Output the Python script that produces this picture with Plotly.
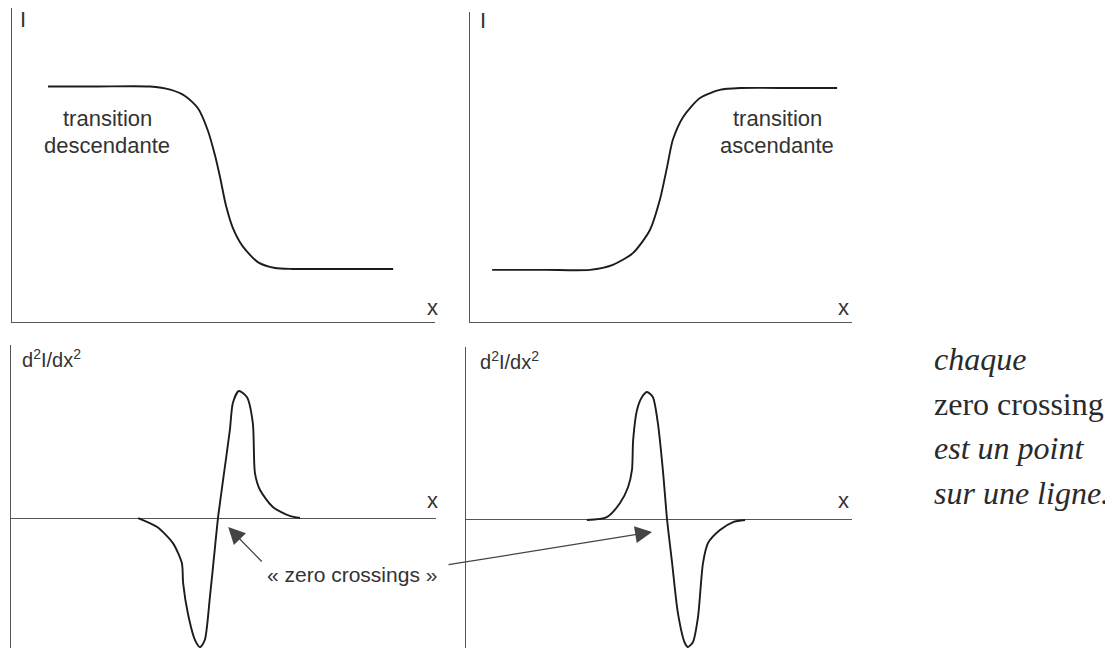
import plotly.graph_objects as go

W, H = 1113, 648
OFF = 8  # the page body keeps its default 8px margin

# Intensity profiles, top row (x in arbitrary units 0-10, I in 0-1)
desc_x = [0.85, 2.0, 3.26, 3.74, 4.09, 4.40, 4.63, 4.80, 4.92, 5.06, 5.22, 5.46, 5.82, 6.22, 6.64, 8.0, 9.01]
desc_I = [0.75, 0.75, 0.75, 0.74, 0.72, 0.68, 0.61, 0.53, 0.46, 0.37, 0.30, 0.24, 0.19, 0.172, 0.169, 0.169, 0.169]

asc_x = [0.58, 2.0, 3.14, 3.74, 4.27, 4.71, 4.97, 5.16, 5.31, 5.58, 6.02, 6.54, 7.07, 8.5, 9.61]
asc_I = [0.166, 0.166, 0.166, 0.182, 0.220, 0.293, 0.389, 0.494, 0.580, 0.653, 0.713, 0.739, 0.745, 0.745, 0.745]

# Second derivatives, bottom row
d2_desc_x = [2.99, 3.44, 3.81, 4.02, 4.05, 4.16, 4.33, 4.45, 4.56, 4.68, 4.80, 4.87,
             4.99, 5.15, 5.22, 5.36, 5.55, 5.69, 5.74, 5.86, 6.16, 6.56, 6.80]
d2_desc_y = [0, -0.052, -0.145, -0.260, -0.376, -0.549, -0.705, -0.746, -0.705, -0.457, -0.168, 0,
             0.220, 0.509, 0.665, 0.734, 0.699, 0.549, 0.260, 0.162, 0.064, 0.012, 0]

d2_asc_x = [3.13, 3.65, 3.99, 4.20, 4.30, 4.33, 4.43, 4.56, 4.69, 4.84, 4.97, 5.10,
            5.21, 5.34, 5.49, 5.67, 5.75, 5.88, 6.01, 6.14, 6.27, 6.58, 6.92, 7.23]
d2_asc_y = [0, 0.017, 0.098, 0.191, 0.289, 0.462, 0.636, 0.711, 0.740, 0.711, 0.561, 0.289,
            0, -0.249, -0.538, -0.711, -0.734, -0.705, -0.561, -0.249, -0.133, -0.058, -0.012, 0]

# arrow tips (near the zero crossings), in panel units
tip_left = (5.11, -0.052)
tip_right = (4.82, -0.069)

side_lines = ['<i>chaque</i>', 'zero crossing', '<i>est un point</i>', '<i>sur une ligne.</i>']

SANS = 'Liberation Sans, Arial, sans-serif'
SERIF = 'Liberation Serif, DejaVu Serif, serif'
CURVE = '#1c1c1c'
AXIS = '#555555'
TEXT = '#333333'


def px_x(p):
    return (p - OFF) / (W - OFF)


def px_y(p):
    return 1 - (p - OFF) / (H - OFF)


fig = go.Figure()

panels = [
    # axis suffix, x domain px, y domain px (top, bottom), y range
    ('', (12, 435), (8, 322), [0, 1.0]),
    ('2', (470, 852), (12, 322), [0, 0.987]),
    ('3', (11, 436), (345, 648), [-0.751, 1.0]),
    ('4', (466, 852), (347, 648), [-0.74, 1.0]),
]
curves = [(desc_x, desc_I), (asc_x, asc_I), (d2_desc_x, d2_desc_y), (d2_asc_x, d2_asc_y)]

for i, ((sfx, xd, yd, yr), (cx, cy)) in enumerate(zip(panels, curves)):
    bottom_row = i >= 2
    fig.add_trace(go.Scatter(
        x=cx, y=cy, mode='lines', xaxis='x' + sfx, yaxis='y' + sfx,
        line=dict(color=CURVE, width=1.9, shape='spline', smoothing=0.7),
        hoverinfo='skip', showlegend=False,
    ))
    fig.update_layout({
        'xaxis' + sfx: dict(
            domain=[px_x(xd[0]), px_x(xd[1])], range=[0, 10], anchor='y' + sfx,
            showgrid=False, zeroline=False, showticklabels=False, ticks='',
            showline=not bottom_row, linecolor=AXIS, linewidth=1.3,
        ),
        'yaxis' + sfx: dict(
            domain=[max(px_y(yd[1]), 0), px_y(yd[0])], range=yr, anchor='x' + sfx,
            showgrid=False, showticklabels=False, ticks='',
            showline=True, linecolor=AXIS, linewidth=1.3,
            zeroline=bottom_row, zerolinecolor=AXIS, zerolinewidth=1.3,
        ),
    })

annotations = []


def label(text, x, y, size=22, xanchor='center', family=SANS, color=TEXT):
    annotations.append(dict(
        text=text, x=px_x(x), y=px_y(y), xref='paper', yref='paper',
        xanchor=xanchor, yanchor='middle', showarrow=False,
        font=dict(family=family, size=size, color=color),
    ))


# axis names
label('I', 23, 19)
label('I', 483, 21)
label('x', 432, 307)
label('x', 843, 307)
label('x', 432, 500)
label('x', 843, 500)
label('d<sup>2</sup>I/dx<sup>2</sup>', 20, 358, size=20, xanchor='left')
label('d<sup>2</sup>I/dx<sup>2</sup>', 478, 360, size=20, xanchor='left')

# curve captions
label('transition', 107, 118)
label('descendante', 107, 146)
label('transition', 777, 118)
label('ascendante', 777, 146)
label('« zero crossings »', 352, 574, size=21)

# side text
for j, line in enumerate(side_lines):
    label(line, 932, 359 + j * 44.5, size=32, xanchor='left', family=SERIF, color='#2a2a2a')

# arrows to the zero crossings
for (sfx, tip, ax, ay) in [('3', tip_left, 35, 36), ('4', tip_right, -205, 33)]:
    annotations.append(dict(
        text='', x=tip[0], y=tip[1], xref='x' + sfx, yref='y' + sfx,
        ax=ax, ay=ay, showarrow=True, arrowhead=2, arrowsize=2.6, arrowwidth=1.3,
        arrowcolor='#444444', standoff=0,
    ))

fig.update_layout(
    width=W - OFF, height=H - OFF,
    margin=dict(l=0, r=0, t=0, b=0),
    paper_bgcolor='white', plot_bgcolor='white',
    annotations=annotations,
    showlegend=False,
)

fig.write_html("out.html")
